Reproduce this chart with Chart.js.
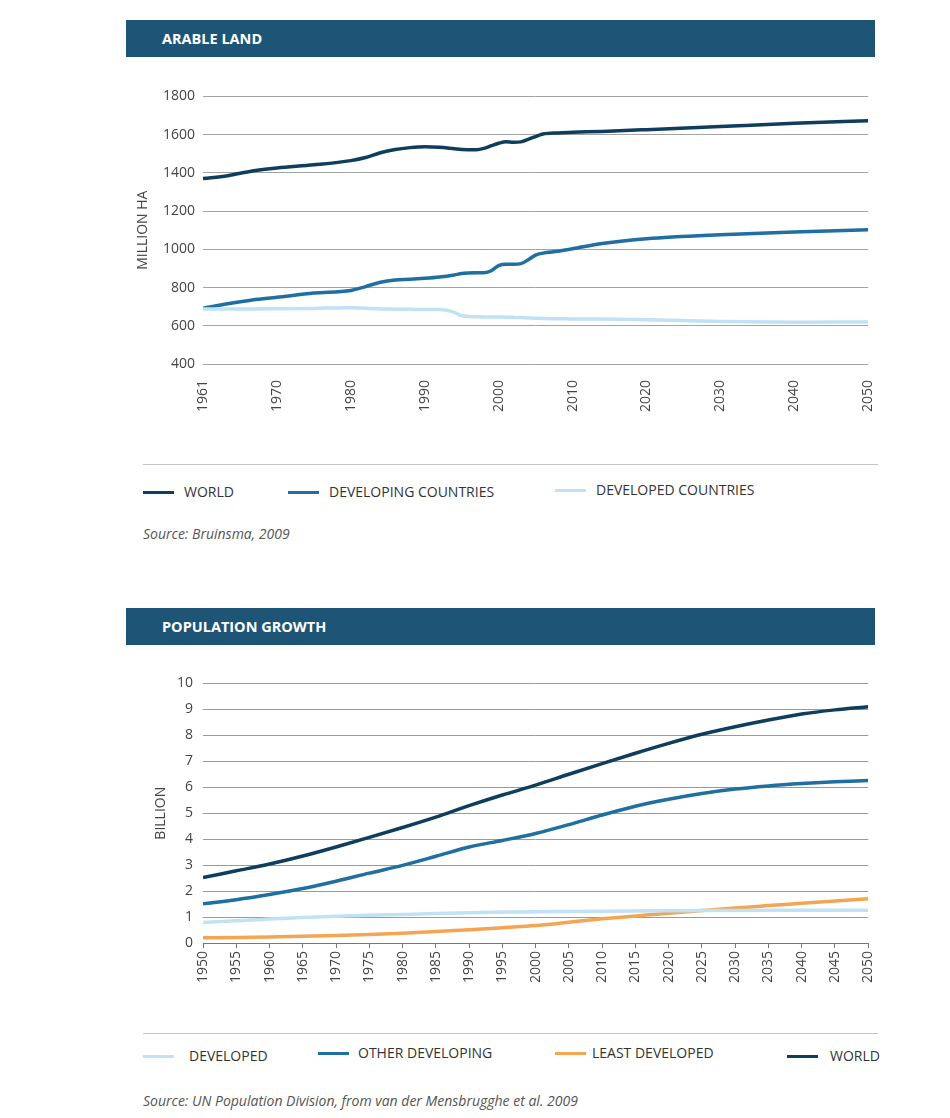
<!DOCTYPE html>
<html>
<head>
<meta charset="utf-8">
<script src="https://cdn.jsdelivr.net/npm/chart.js@4/dist/chart.umd.min.js"></script>
<style>
  body { margin: 0; background: #fff; font-family: "Open Sans", sans-serif; }
  .page { position: relative; width: 950px; height: 1118px; }
  .header { position: absolute; left: 126px; width: 749px; height: 37px; background: #1e5577; color: #fff;
            font-weight: bold; font-size: 14.5px; line-height: 37px; box-sizing: border-box; padding-left: 36px; }
  .box { position: absolute; left: 130px; }
  .sep { position: absolute; left: 143px; width: 735px; height: 1px; background: #c4c4c4; }
  .leg { position: absolute; font-size: 14px; color: #333; white-space: nowrap; }
  .leg i { display: inline-block; width: 31px; height: 3px; vertical-align: middle; margin-right: 10px; margin-top: -2px; }
  .src { position: absolute; left: 143px; font-size: 14px; font-style: italic; color: #555; }
</style>
</head>
<body>
<div class="page">
  <div class="header" style="top:20px">ARABLE LAND</div>
  <div class="box" style="top:80px;width:763px;height:340px"><canvas id="land"></canvas></div>
  <div class="sep" style="top:464px"></div>
  <div class="leg" style="left:143px;top:482px"><i style="background:#0e3d5e"></i>WORLD</div>
  <div class="leg" style="left:288px;top:482px"><i style="background:#1f6fa0"></i>DEVELOPING COUNTRIES</div>
  <div class="leg" style="left:555px;top:480px"><i style="background:#bfe2f5"></i>DEVELOPED COUNTRIES</div>
  <div class="src" style="top:524px">Source: Bruinsma, 2009</div>

  <div class="header" style="top:608px">POPULATION GROWTH</div>
  <div class="box" style="top:665px;width:758px;height:340px"><canvas id="pop"></canvas></div>
  <div class="sep" style="top:1033px"></div>
  <div class="leg" style="left:143px;top:1046px"><i style="background:#bfe2f5;margin-right:15px"></i>DEVELOPED</div>
  <div class="leg" style="left:318px;top:1043px"><i style="background:#1f6fa0;margin-right:9px"></i>OTHER DEVELOPING</div>
  <div class="leg" style="left:555px;top:1043px"><i style="background:#f5a552;margin-right:6px"></i>LEAST DEVELOPED</div>
  <div class="leg" style="left:787px;top:1046px"><i style="background:#0e3d5e;margin-right:12px"></i>WORLD</div>
  <div class="src" style="top:1091px">Source: UN Population Division, from van der Mensbrugghe et al. 2009</div>
</div>

<script>
// arable land, million ha
const landYears = [1961, 1964, 1967, 1970, 1975, 1980, 1982, 1984, 1986, 1988, 1990, 1992, 1994, 1995, 1997, 1998, 1999,
                   2000, 2001, 2002, 2003, 2004, 2005, 2006, 2008, 2010, 2014, 2020, 2030, 2040, 2050];
const landWorld = [1370, 1385, 1410, 1426, 1442, 1464, 1480, 1505, 1522, 1532, 1537, 1534, 1526, 1522, 1521, 1528, 1542,
                   1555, 1563, 1560, 1562, 1575, 1590, 1603, 1609, 1612, 1617, 1626, 1642, 1659, 1673];
const landDeveloping = [692, 715, 735, 749, 771, 785, 805, 828, 840, 843, 848, 855, 866, 873, 877, 878, 888,
                        915, 922, 922, 925, 945, 970, 980, 990, 1003, 1030, 1055, 1076, 1090, 1103];
const landDeveloped = [688, 688, 688, 689, 691, 694, 692, 688, 687, 686, 685, 685, 670, 652, 647, 646, 646,
                       646, 645, 644, 643, 641, 639, 638, 637, 636, 635, 632, 622, 619, 620];
const landTicks = [1961, 1970, 1980, 1990, 2000, 2010, 2020, 2030, 2040, 2050];
const landYTicks = [400, 600, 800, 1000, 1200, 1400, 1600, 1800];

// population, billion
const popYears = [1950, 1955, 1960, 1965, 1970, 1975, 1980, 1985, 1990, 1995, 2000,
                  2005, 2010, 2015, 2020, 2025, 2030, 2035, 2040, 2045, 2050];
const popDeveloped = [0.79, 0.86, 0.92, 0.98, 1.03, 1.07, 1.10, 1.14, 1.17, 1.19, 1.20,
                      1.21, 1.22, 1.23, 1.24, 1.25, 1.25, 1.26, 1.26, 1.26, 1.26];
const popOtherDeveloping = [1.51, 1.67, 1.87, 2.10, 2.38, 2.69, 2.99, 3.34, 3.70, 3.95, 4.22,
                            4.56, 4.93, 5.27, 5.54, 5.76, 5.93, 6.05, 6.14, 6.21, 6.26];
const popLeastDeveloped = [0.20, 0.21, 0.23, 0.26, 0.29, 0.33, 0.38, 0.44, 0.51, 0.59, 0.67,
                           0.80, 0.93, 1.04, 1.15, 1.25, 1.35, 1.44, 1.53, 1.62, 1.70];
const popWorld = [2.52, 2.78, 3.04, 3.35, 3.70, 4.07, 4.45, 4.85, 5.29, 5.70, 6.08,
                  6.50, 6.91, 7.31, 7.69, 8.04, 8.33, 8.59, 8.82, 8.98, 9.10];

const DARK = '#0e3d5e', MID = '#1f6fa0', LIGHT = '#bfe2f5', ORANGE = '#f5a552';
const tickFont = { family: 'Open Sans', size: 14 };
const titleFont = { family: 'Open Sans', size: 14 };

// 1961-1970 gets the same width as each later decade
const landPos = y => y < 1970 ? (y - 1961) / 9 : 1 + (y - 1970) / 10;

const line = (label, xs, ys, color, conv) => ({
    label,
    data: xs.map((x, i) => ({ x: conv ? conv(x) : x, y: ys[i] })),
    borderColor: color,
    borderWidth: 3.5,
    pointRadius: 0,
    cubicInterpolationMode: 'monotone',
    fill: false
});

new Chart(document.getElementById('land'), {
    type: 'line',
    data: {
        datasets: [
            line('DEVELOPED COUNTRIES', landYears, landDeveloped, LIGHT, landPos),
            line('DEVELOPING COUNTRIES', landYears, landDeveloping, MID, landPos),
            line('WORLD', landYears, landWorld, DARK, landPos)
        ]
    },
    options: {
        responsive: true,
        maintainAspectRatio: false,
        animation: false,
        layout: { padding: { top: 15, right: 0, left: 0, bottom: 0 } },
        plugins: { legend: { display: false }, tooltip: { enabled: false } },
        scales: {
            x: {
                type: 'linear', min: 0, max: landTicks.length - 1,
                grid: { display: false },
                border: { display: false },
                afterBuildTicks: s => { s.ticks = landTicks.map((_, i) => ({ value: i })); },
                afterFit: s => { s.height = 56; },
                ticks: {
                    autoSkip: false, maxRotation: 90, minRotation: 90, padding: 8,
                    color: '#444', font: tickFont,
                    callback: v => landTicks[v]
                }
            },
            y: {
                min: 400, max: 1800,
                afterBuildTicks: s => { s.ticks = landYTicks.map(v => ({ value: v })); },
                afterFit: s => { s.width = 73; },
                grid: { color: '#a3a3a3', drawTicks: false },
                border: { display: false },
                ticks: { padding: 8, color: '#444', font: tickFont, callback: v => String(v) },
                title: { display: true, text: 'MILLION HA', color: '#444',
                         font: titleFont, padding: { top: 5, bottom: 0 } }
            }
        }
    }
});

new Chart(document.getElementById('pop'), {
    type: 'line',
    data: {
        datasets: [
            line('DEVELOPED', popYears, popDeveloped, LIGHT),
            line('LEAST DEVELOPED', popYears, popLeastDeveloped, ORANGE),
            line('OTHER DEVELOPING', popYears, popOtherDeveloping, MID),
            line('WORLD', popYears, popWorld, DARK)
        ]
    },
    options: {
        responsive: true,
        maintainAspectRatio: false,
        animation: false,
        layout: { padding: { top: 18, right: 0, left: 0, bottom: 0 } },
        plugins: { legend: { display: false }, tooltip: { enabled: false } },
        scales: {
            x: {
                type: 'linear', min: 1950, max: 2050,
                grid: { display: true, drawOnChartArea: false, drawTicks: true, tickLength: 5, color: '#777' },
                border: { display: true, color: '#777' },
                afterFit: s => { s.height = 62; },
                ticks: {
                    stepSize: 5, autoSkip: false, maxRotation: 90, minRotation: 90, padding: 3,
                    color: '#444', font: tickFont,
                    callback: v => String(v)
                }
            },
            y: {
                min: 0, max: 10,
                afterFit: s => { s.width = 73; },
                grid: { color: '#9a9a9a', drawTicks: false },
                border: { display: false },
                ticks: { stepSize: 1, padding: 10, color: '#444', font: tickFont },
                title: { display: true, text: 'BILLION', color: '#444',
                         font: titleFont, padding: { top: 23, bottom: 0 } }
            }
        }
    }
});
</script>
</body>
</html>
